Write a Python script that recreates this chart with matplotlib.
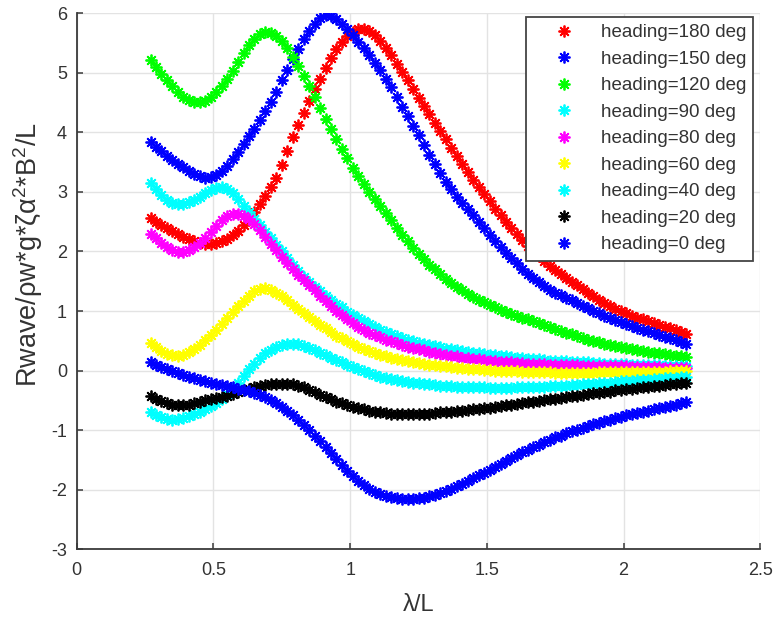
import numpy as np
import matplotlib
matplotlib.use('Agg')
import matplotlib.pyplot as plt

plt.rcParams['font.family'] = ['Liberation Sans', 'DejaVu Sans']
plt.rcParams['axes.unicode_minus'] = False
plt.rcParams['mathtext.fontset'] = 'custom'
plt.rcParams['mathtext.rm'] = 'Liberation Sans'
plt.rcParams['mathtext.it'] = 'Liberation Sans'

# wavelength ratio samples (lambda / L), 0.27 ... 2.23 every 0.02
lambda_L = np.linspace(0.27, 2.23, 99)

r_180 = [2.56, 2.50, 2.45, 2.40, 2.35, 2.30, 2.25, 2.21, 2.17, 2.14,
         2.13, 2.13, 2.14, 2.17, 2.21, 2.27, 2.35, 2.45, 2.55, 2.67,
         2.80, 2.93, 3.08, 3.24, 3.45, 3.68, 3.92, 4.13, 4.33, 4.53,
         4.72, 4.90, 5.08, 5.25, 5.40, 5.52, 5.62, 5.69, 5.73, 5.73,
         5.70, 5.63, 5.53, 5.42, 5.29, 5.15, 5.01, 4.87, 4.72, 4.58,
         4.44, 4.30, 4.16, 4.02, 3.88, 3.74, 3.60, 3.47, 3.33, 3.20,
         3.08, 2.96, 2.84, 2.72, 2.61, 2.50, 2.40, 2.30, 2.20, 2.10,
         2.01, 1.92, 1.84, 1.76, 1.69, 1.62, 1.55, 1.49, 1.43, 1.37,
         1.31, 1.25, 1.19, 1.14, 1.09, 1.04, 1.00, 0.96, 0.92, 0.89,
         0.86, 0.83, 0.80, 0.77, 0.74, 0.71, 0.68, 0.65, 0.62]

r_150 = [3.84, 3.76, 3.68, 3.61, 3.54, 3.47, 3.41, 3.35, 3.30, 3.26,
         3.24, 3.25, 3.29, 3.35, 3.44, 3.55, 3.67, 3.80, 3.93, 4.06,
         4.20, 4.35, 4.50, 4.68, 4.87, 5.05, 5.23, 5.40, 5.56, 5.70,
         5.82, 5.91, 5.96, 5.95, 5.90, 5.82, 5.73, 5.63, 5.52, 5.41,
         5.29, 5.17, 5.04, 4.90, 4.76, 4.60, 4.43, 4.27, 4.11, 3.96,
         3.79, 3.62, 3.46, 3.31, 3.17, 3.04, 2.92, 2.81, 2.71, 2.61,
         2.50, 2.39, 2.28, 2.18, 2.08, 1.98, 1.89, 1.80, 1.71, 1.63,
         1.55, 1.48, 1.42, 1.36, 1.31, 1.27, 1.22, 1.18, 1.13, 1.09,
         1.05, 1.00, 0.96, 0.92, 0.88, 0.85, 0.81, 0.78, 0.75, 0.72,
         0.69, 0.66, 0.63, 0.60, 0.57, 0.54, 0.51, 0.48, 0.45]

r_120 = [5.22, 5.10, 4.98, 4.87, 4.77, 4.68, 4.60, 4.54, 4.51, 4.50,
         4.53, 4.59, 4.67, 4.77, 4.89, 5.03, 5.18, 5.33, 5.46, 5.57,
         5.65, 5.68, 5.67, 5.62, 5.53, 5.41, 5.27, 5.12, 4.95, 4.77,
         4.59, 4.41, 4.23, 4.06, 3.89, 3.72, 3.56, 3.40, 3.26, 3.13,
         3.00, 2.88, 2.76, 2.64, 2.52, 2.40, 2.28, 2.17, 2.06, 1.96,
         1.87, 1.78, 1.70, 1.62, 1.54, 1.47, 1.41, 1.35, 1.29, 1.24,
         1.19, 1.15, 1.10, 1.06, 1.02, 0.99, 0.95, 0.92, 0.89, 0.86,
         0.83, 0.80, 0.77, 0.74, 0.70, 0.67, 0.64, 0.61, 0.58, 0.55,
         0.52, 0.50, 0.48, 0.45, 0.43, 0.41, 0.40, 0.38, 0.36, 0.35,
         0.33, 0.32, 0.30, 0.29, 0.28, 0.26, 0.25, 0.24, 0.23]

r_90 = [3.15, 3.04, 2.95, 2.87, 2.82, 2.80, 2.80, 2.83, 2.87, 2.92,
        2.98, 3.03, 3.07, 3.08, 3.05, 2.98, 2.88, 2.77, 2.66, 2.55,
        2.44, 2.33, 2.22, 2.11, 2.00, 1.89, 1.78, 1.68, 1.58, 1.49,
        1.41, 1.33, 1.26, 1.19, 1.12, 1.06, 0.99, 0.93, 0.88, 0.83,
        0.78, 0.73, 0.69, 0.65, 0.61, 0.58, 0.55, 0.52, 0.49, 0.47,
        0.45, 0.43, 0.41, 0.39, 0.37, 0.36, 0.34, 0.33, 0.31, 0.30,
        0.29, 0.28, 0.27, 0.26, 0.25, 0.24, 0.23, 0.22, 0.21, 0.20,
        0.20, 0.19, 0.18, 0.17, 0.17, 0.16, 0.16, 0.15, 0.15, 0.14,
        0.14, 0.13, 0.13, 0.12, 0.12, 0.11, 0.11, 0.11, 0.10, 0.10,
        0.10, 0.09, 0.09, 0.09, 0.08, 0.08, 0.08, 0.07, 0.07]

r_80 = [2.30, 2.22, 2.14, 2.07, 2.02, 1.99, 1.99, 2.02, 2.07, 2.14,
        2.23, 2.33, 2.43, 2.52, 2.59, 2.63, 2.63, 2.60, 2.54, 2.46,
        2.36, 2.25, 2.13, 2.02, 1.91, 1.81, 1.71, 1.61, 1.52, 1.43,
        1.35, 1.26, 1.17, 1.08, 1.00, 0.93, 0.86, 0.80, 0.74, 0.69,
        0.64, 0.60, 0.56, 0.52, 0.49, 0.46, 0.43, 0.40, 0.38, 0.36,
        0.34, 0.32, 0.30, 0.28, 0.27, 0.25, 0.24, 0.22, 0.21, 0.20,
        0.19, 0.18, 0.17, 0.16, 0.15, 0.15, 0.14, 0.13, 0.13, 0.12,
        0.12, 0.11, 0.11, 0.10, 0.10, 0.10, 0.09, 0.09, 0.09, 0.08,
        0.08, 0.08, 0.08, 0.07, 0.07, 0.07, 0.07, 0.07, 0.06, 0.06,
        0.06, 0.06, 0.06, 0.06, 0.05, 0.05, 0.05, 0.05, 0.05]

r_60 = [0.47, 0.40, 0.33, 0.28, 0.26, 0.25, 0.27, 0.31, 0.36, 0.43,
        0.51, 0.60, 0.69, 0.78, 0.88, 0.98, 1.08, 1.17, 1.26, 1.33,
        1.37, 1.38, 1.36, 1.31, 1.25, 1.18, 1.11, 1.04, 0.97, 0.90,
        0.83, 0.77, 0.71, 0.65, 0.59, 0.54, 0.49, 0.44, 0.40, 0.36,
        0.33, 0.30, 0.27, 0.25, 0.22, 0.20, 0.18, 0.16, 0.15, 0.13,
        0.12, 0.10, 0.09, 0.08, 0.07, 0.06, 0.05, 0.04, 0.03, 0.03,
        0.02, 0.01, 0.01, 0.00, 0.00, -0.01, -0.01, -0.01, -0.02, -0.02,
        -0.03, -0.03, -0.03, -0.03, -0.04, -0.04, -0.04, -0.04, -0.04, -0.04,
        -0.04, -0.04, -0.03, -0.03, -0.03, -0.03, -0.03, -0.03, -0.03, -0.02,
        -0.02, -0.02, -0.02, -0.02, -0.02, -0.01, -0.01, -0.01, -0.01]

r_40 = [-0.69, -0.74, -0.78, -0.81, -0.82, -0.81, -0.79, -0.76, -0.73, -0.69,
        -0.65, -0.60, -0.54, -0.47, -0.39, -0.30, -0.20, -0.09, 0.02, 0.12,
        0.21, 0.29, 0.35, 0.40, 0.43, 0.45, 0.45, 0.44, 0.41, 0.38,
        0.34, 0.30, 0.26, 0.22, 0.18, 0.14, 0.10, 0.06, 0.03, -0.01,
        -0.04, -0.07, -0.10, -0.12, -0.14, -0.16, -0.17, -0.19, -0.20, -0.21,
        -0.22, -0.23, -0.24, -0.25, -0.26, -0.26, -0.27, -0.27, -0.28, -0.28,
        -0.28, -0.28, -0.29, -0.29, -0.29, -0.29, -0.29, -0.28, -0.28, -0.28,
        -0.28, -0.27, -0.27, -0.26, -0.26, -0.25, -0.25, -0.24, -0.24, -0.23,
        -0.22, -0.22, -0.21, -0.20, -0.20, -0.19, -0.18, -0.18, -0.17, -0.16,
        -0.16, -0.15, -0.14, -0.14, -0.13, -0.12, -0.12, -0.11, -0.10]

r_20 = [-0.42, -0.47, -0.51, -0.55, -0.57, -0.58, -0.58, -0.57, -0.55, -0.53,
        -0.50, -0.48, -0.46, -0.44, -0.42, -0.39, -0.36, -0.33, -0.30, -0.28,
        -0.26, -0.24, -0.23, -0.22, -0.22, -0.22, -0.23, -0.25, -0.28, -0.32,
        -0.36, -0.40, -0.44, -0.48, -0.52, -0.55, -0.58, -0.61, -0.63, -0.65,
        -0.67, -0.69, -0.70, -0.71, -0.72, -0.73, -0.73, -0.73, -0.73, -0.73,
        -0.72, -0.72, -0.71, -0.70, -0.70, -0.69, -0.68, -0.67, -0.66, -0.65,
        -0.64, -0.63, -0.62, -0.61, -0.60, -0.58, -0.57, -0.56, -0.55, -0.53,
        -0.52, -0.51, -0.49, -0.48, -0.47, -0.46, -0.44, -0.43, -0.42, -0.41,
        -0.39, -0.38, -0.37, -0.36, -0.35, -0.33, -0.32, -0.31, -0.30, -0.29,
        -0.28, -0.27, -0.26, -0.25, -0.24, -0.23, -0.22, -0.21, -0.20]

r_0 = [0.14, 0.10, 0.06, 0.02, -0.01, -0.04, -0.07, -0.10, -0.13, -0.15,
       -0.18, -0.20, -0.22, -0.24, -0.26, -0.28, -0.30, -0.32, -0.34, -0.37,
       -0.40, -0.44, -0.49, -0.55, -0.61, -0.68, -0.75, -0.83, -0.91, -1.00,
       -1.09, -1.18, -1.28, -1.38, -1.48, -1.58, -1.68, -1.77, -1.85, -1.92,
       -1.98, -2.03, -2.07, -2.10, -2.12, -2.14, -2.15, -2.15, -2.15, -2.14,
       -2.13, -2.11, -2.09, -2.06, -2.02, -1.98, -1.94, -1.90, -1.85, -1.80,
       -1.75, -1.71, -1.66, -1.61, -1.56, -1.51, -1.46, -1.42, -1.37, -1.33,
       -1.28, -1.24, -1.20, -1.16, -1.12, -1.09, -1.05, -1.02, -0.99, -0.96,
       -0.93, -0.90, -0.87, -0.85, -0.82, -0.80, -0.77, -0.75, -0.73, -0.71,
       -0.69, -0.67, -0.65, -0.63, -0.61, -0.59, -0.57, -0.55, -0.53]

headings = [180, 150, 120, 90, 80, 60, 40, 20, 0]
series = [r_180, r_150, r_120, r_90, r_80, r_60, r_40, r_20, r_0]
colors = ['#ff0000', '#0000ff', '#00ff00', '#00ffff', '#ff00ff',
          '#ffff00', '#00ffff', '#000000', '#0000ff']

fig = plt.figure(figsize=(7.75, 6.22), dpi=100)
ax = fig.add_axes([0.099, 0.1166, 0.882, 0.8624])

for h, vals, c in zip(headings, series, colors):
    ax.plot(lambda_L, vals, linestyle='none', marker=(8, 2, 0),
            markersize=8.5, markeredgewidth=1.3, color=c,
            label=f'heading={h} deg')

ax.set_xlim(0, 2.5)
ax.set_ylim(-3, 6)
ax.set_xticks([0, 0.5, 1, 1.5, 2, 2.5])
ax.set_xticklabels(['0', '0.5', '1', '1.5', '2', '2.5'])
ax.set_yticks(range(-3, 7))

ax.grid(True, color='#e3e3e3', linewidth=1)
ax.set_axisbelow(True)
for side in ['top', 'right']:
    ax.spines[side].set_visible(False)
for side in ['left', 'bottom']:
    ax.spines[side].set_color('#3a3a3a')
    ax.spines[side].set_linewidth(1.3)

ax.tick_params(axis='both', direction='in', length=4, width=1.1,
               colors='#3a3a3a', labelsize=13, labelcolor='#333333')
ax.tick_params(axis='x', pad=9)
ax.tick_params(axis='y', pad=7)

ax.set_xlabel('λ/L', fontsize=17, color='#333333', labelpad=11)
ax.set_ylabel('Rwave/ρw*g*ζα$^{2}$*B$^{2}$/L', fontsize=19.5, color='#333333')
ax.yaxis.set_label_coords(-0.046, 0.55)

leg = ax.legend(loc='upper right', bbox_to_anchor=(0.99, 0.993),
                borderaxespad=0, fontsize=13.5, numpoints=1,
                handlelength=3.3, handletextpad=0.3, borderpad=0.4,
                labelspacing=0.5, fancybox=False, framealpha=1,
                edgecolor='#444444')
leg.get_frame().set_linewidth(1.3)
for t in leg.get_texts():
    t.set_color('#333333')

fig.savefig('out.png', dpi=100)
